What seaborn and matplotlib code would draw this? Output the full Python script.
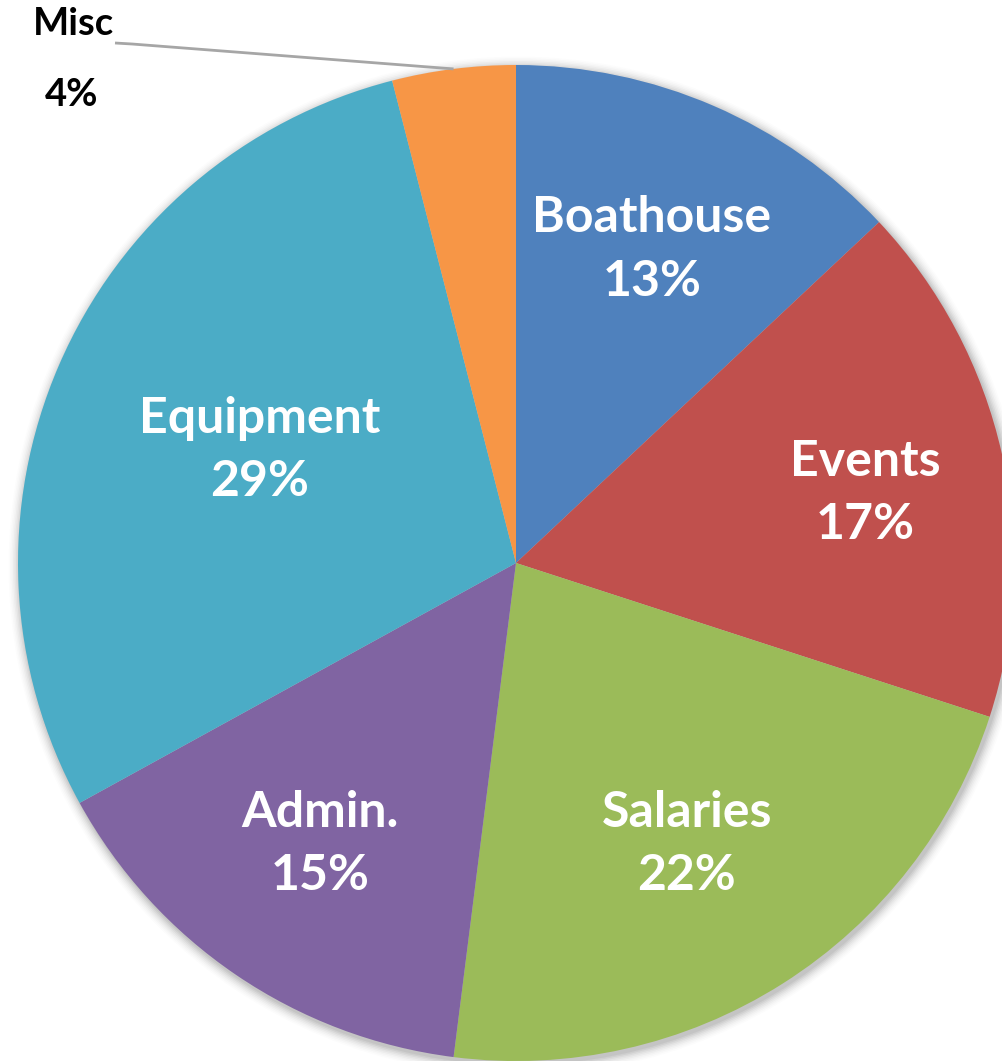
import matplotlib
matplotlib.use("Agg")
import matplotlib.pyplot as plt
import numpy as np
import seaborn as sns

sns.set_theme(style="white")
plt.rcParams["font.family"] = ["Lato", "DejaVu Sans"]

categories = ["Boathouse", "Events", "Salaries", "Admin.", "Equipment", "Misc"]
shares = [13, 17, 22, 15, 29, 4]
colors = ["#4F81BD", "#C0504D", "#9BBB59", "#8064A2", "#4BACC6", "#F79646"]
# radial position of each in-slice label, as a fraction of the radius
label_radius = [0.686, 0.715, 0.660, 0.688, 0.562, None]
label_turn = [0, -1.3, -1.1, -0.7, -0.4, 0]  # small angular nudges, degrees

W, H = 1002, 1061
fig = plt.figure(figsize=(W / 100, H / 100), dpi=100)
ax = fig.add_axes([0, 0, 1, 1])

cx, cy, R = 516, H - 563, 498

# soft shadow around the disc
for i, a in enumerate(np.linspace(0.05, 0.01, 8)):
    ax.add_patch(plt.Circle((cx + 2, cy - 3), R + 1 + i * 1.5, color="black",
                            alpha=a, lw=0, zorder=0))

wedges, _ = ax.pie(shares, colors=colors, startangle=90, counterclock=False,
                   radius=R, center=(cx, cy), frame=True,
                   wedgeprops=dict(linewidth=0))
ax.set_xlim(0, W)
ax.set_ylim(0, H)
ax.set_aspect("equal")
ax.axis("off")

for w, name, val, lr, turn in zip(wedges, categories, shares, label_radius, label_turn):
    if lr is None:
        continue
    mid = np.deg2rad((w.theta1 + w.theta2) / 2 + turn)
    x = cx + lr * R * np.cos(mid)
    y = cy + lr * R * np.sin(mid)
    ax.text(x, y, f"{name}\n{val}%", ha="center", va="center", color="white",
            fontsize=36, fontweight="bold", linespacing=1.5, zorder=5)

# Misc callout outside the disc with a leader line
misc = wedges[-1]
mid = np.deg2rad((misc.theta1 + misc.theta2) / 2)
ex, ey = cx + R * np.cos(mid), cy + R * np.sin(mid)
lx, ly = 115, H - 43
ax.plot([lx, 132, ex], [ly, ly - 1, ey], color="#A6A6A6", lw=2, zorder=4,
        solid_capstyle="butt")
ax.text(73, H - 24, categories[-1], ha="center", va="center", color="black",
        fontsize=27.5, fontweight="bold", zorder=5)
ax.text(72, H - 95, f"{shares[-1]}%", ha="center", va="center", color="black",
        fontsize=27.5, fontweight="bold", zorder=5)

fig.savefig("out.png", dpi=100)
